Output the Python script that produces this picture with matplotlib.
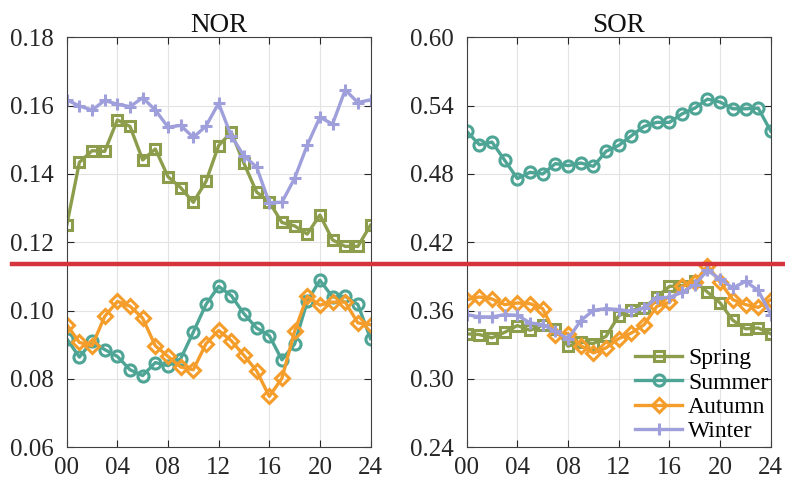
import numpy as np
import matplotlib.pyplot as plt
from matplotlib.lines import Line2D

plt.rcParams['font.family'] = ['Liberation Serif', 'DejaVu Serif']

hours = list(range(25))
xtick_vals = [0, 4, 8, 12, 16, 20, 24]
xtick_labels = ['00', '04', '08', '12', '16', '20', '24']
seasons = ['Spring', 'Summer', 'Autumn', 'Winter']

nor_spring = [0.125, 0.1434, 0.1468, 0.1466, 0.1558, 0.1539, 0.1441, 0.1473, 0.1392, 0.1360,
              0.1317, 0.1378, 0.1483, 0.1522, 0.1431, 0.1347, 0.1318, 0.1258, 0.1248, 0.1224,
              0.1280, 0.1207, 0.1188, 0.1188, 0.125]
nor_summer = [0.0918, 0.0864, 0.0910, 0.0886, 0.0866, 0.0827, 0.0810, 0.0848, 0.0839, 0.0859,
              0.0937, 0.1018, 0.1071, 0.1044, 0.0991, 0.0949, 0.0927, 0.0856, 0.0902, 0.1027,
              0.1089, 0.1040, 0.1042, 0.1018, 0.0918]
nor_autumn = [0.0959, 0.0907, 0.0897, 0.0983, 0.1027, 0.1013, 0.0978, 0.0897, 0.0866, 0.0835,
              0.0827, 0.0903, 0.0942, 0.0912, 0.0869, 0.0824, 0.0749, 0.0802, 0.0939, 0.1042,
              0.1016, 0.1025, 0.1025, 0.0964, 0.0959]
nor_winter = [0.1617, 0.1599, 0.1587, 0.1615, 0.1604, 0.1597, 0.1623, 0.1587, 0.1537, 0.1542,
              0.1507, 0.1540, 0.1607, 0.1511, 0.1453, 0.1420, 0.1316, 0.1317, 0.1387, 0.1484,
              0.1566, 0.1546, 0.1646, 0.1609, 0.1617]

sor_spring = [0.3396, 0.3390, 0.3361, 0.3410, 0.3469, 0.3428, 0.3472, 0.3440, 0.3288, 0.3323,
              0.3311, 0.3375, 0.3556, 0.3603, 0.3623, 0.3720, 0.3813, 0.3820, 0.3857, 0.3763,
              0.3667, 0.3515, 0.3440, 0.3448, 0.3396]
sor_summer = [0.5174, 0.5057, 0.5080, 0.4920, 0.4759, 0.4815, 0.4800, 0.4891, 0.4873, 0.4896,
              0.4867, 0.4999, 0.5051, 0.5136, 0.5218, 0.5253, 0.5253, 0.5328, 0.5378, 0.5457,
              0.5431, 0.5372, 0.5372, 0.5378, 0.5174]
sor_autumn = [0.3696, 0.3720, 0.3702, 0.3653, 0.3667, 0.3661, 0.3618, 0.3390, 0.3399, 0.3293,
              0.3229, 0.3273, 0.3355, 0.3404, 0.3477, 0.3638, 0.3673, 0.3813, 0.3848, 0.3994,
              0.3848, 0.3696, 0.3653, 0.3629, 0.3696]
sor_winter = [0.3565, 0.3545, 0.3545, 0.3565, 0.3559, 0.3492, 0.3477, 0.3419, 0.3352, 0.3512,
              0.3603, 0.3618, 0.3609, 0.3594, 0.3623, 0.3711, 0.3717, 0.3761, 0.3828, 0.3953,
              0.3877, 0.3799, 0.3857, 0.3778, 0.3565]

colors = ['#8c9d4c', '#4ea596', '#f59d2b', '#9f9fdc']
markers = ['s', 'o', 'D', '+']
msizes = [7.5, 8, 7.5, 9]

fig = plt.figure(figsize=(7.85, 4.86), dpi=100)
ax1 = fig.add_axes([0.085, 0.0796, 0.387, 0.8437])
ax2 = fig.add_axes([0.5945, 0.0796, 0.3875, 0.8437])


def draw(ax, series, title, ylim, yticks):
    for vals, c, m, ms, name in zip(series, colors, markers, msizes, seasons):
        ax.plot(hours, vals, color=c, marker=m, ms=ms, mfc='none', mec=c, mew=2.2,
                lw=2.4, label=name)
    ax.set_xlim(0, 24)
    ax.set_ylim(*ylim)
    ax.set_xticks(xtick_vals)
    ax.set_xticklabels(xtick_labels)
    ax.set_yticks(yticks)
    ax.set_yticklabels([f'{t:.2f}' for t in yticks])
    ax.set_title(title, fontsize=19.5, pad=4, color='#111111')
    ax.grid(True, color='#e3e3e3', lw=0.8)
    ax.set_axisbelow(True)
    ax.tick_params(direction='in', top=True, right=True, labelsize=18, colors='#262626',
                   length=5, width=0.8)
    ax.tick_params(axis='x', pad=7)
    ax.tick_params(axis='y', pad=9)
    for s in ax.spines.values():
        s.set_color('#404040')
        s.set_linewidth(0.8)


draw(ax1, [nor_spring, nor_summer, nor_autumn, nor_winter], 'NOR',
     (0.06, 0.18), [0.06, 0.08, 0.10, 0.12, 0.14, 0.16, 0.18])
draw(ax2, [sor_spring, sor_summer, sor_autumn, sor_winter], 'SOR',
     (0.24, 0.60), [0.24, 0.30, 0.36, 0.42, 0.48, 0.54, 0.60])

ax2.legend(loc='lower left', frameon=False, fontsize=17, handlelength=2.0,
           handletextpad=0.25, labelspacing=0.12, borderaxespad=0, borderpad=0,
           bbox_to_anchor=(0.553, 0.012))

fig.add_artist(Line2D([12 / 785, 1.0], [0.456, 0.456], transform=fig.transFigure,
                      color='#d5343c', lw=3.2))

fig.savefig('out.png', dpi=100)
